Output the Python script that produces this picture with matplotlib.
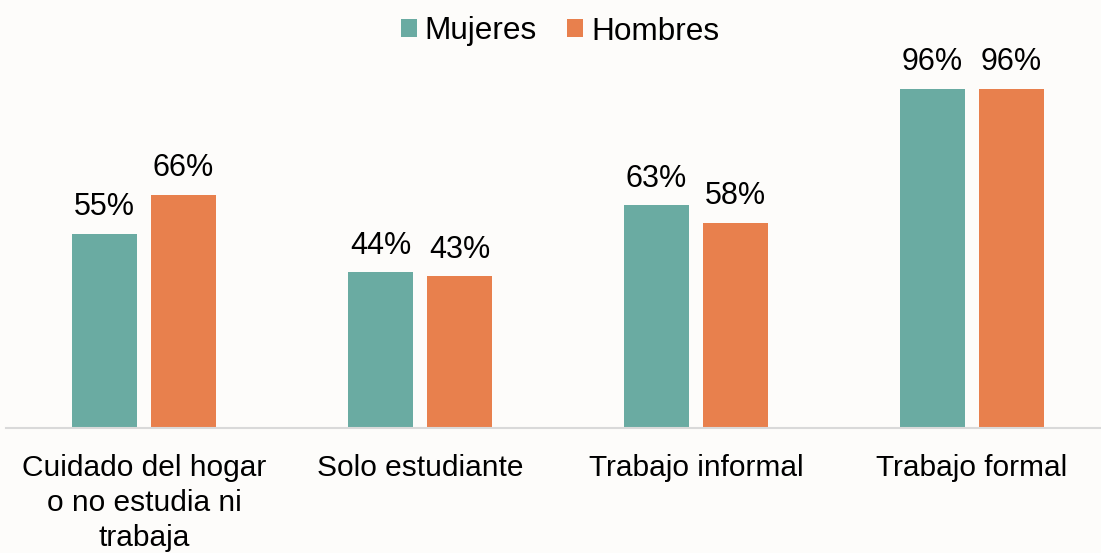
import matplotlib.pyplot as plt
import numpy as np

categorias = ['Cuidado del hogar\no no estudia ni\ntrabaja', 'Solo estudiante',
              'Trabajo informal', 'Trabajo formal']
mujeres = [55, 44, 63, 96]
hombres = [66, 43, 58, 96]

color_mujeres = '#6AABA2'
color_hombres = '#E8804D'

plt.rcParams['font.family'] = ['Liberation Sans', 'DejaVu Sans']
fs = 21.5

fig = plt.figure(figsize=(11.01, 5.53), dpi=100)
fig.patch.set_facecolor('#fdfcfa')
ax = fig.add_axes([6 / 1101, 125 / 553, 1104 / 1101, 428 / 553])
ax.set_facecolor('none')

x = np.arange(len(categorias))
ancho = 0.237
desp = 0.1428

b1 = ax.bar(x - desp, mujeres, ancho, color=color_mujeres, label='Mujeres')
b2 = ax.bar(x + desp, hombres, ancho, color=color_hombres, label='Hombres')

for barras, vals in [(b1, mujeres), (b2, hombres)]:
    for b, v in zip(barras, vals):
        ax.annotate(f'{v}%', (b.get_x() + b.get_width() / 2, v),
                    xytext=(0, 13.3), textcoords='offset points',
                    ha='center', va='baseline', fontsize=22, color='black')

ax.set_xlim(-0.5, 3.5)
ax.set_ylim(0, 428 / 3.535)
ax.set_xticks(x)
ax.set_xticklabels(categorias, fontsize=fs, linespacing=1.32)
ax.tick_params(axis='x', length=0, pad=18.5)
ax.set_yticks([])
for s in ['top', 'right', 'left']:
    ax.spines[s].set_visible(False)
ax.spines['bottom'].set_color('#d9d9d9')
ax.spines['bottom'].set_linewidth(1.5)

fig.legend(loc='center', bbox_to_anchor=(560 / 1101, 1 - 31.5 / 553), ncol=2,
           frameon=False, fontsize=22.7, handlelength=0.5, handleheight=0.5,
           handletextpad=0.26, columnspacing=0.95, borderpad=0)

fig.savefig('out.png', dpi=100, facecolor=fig.get_facecolor())
